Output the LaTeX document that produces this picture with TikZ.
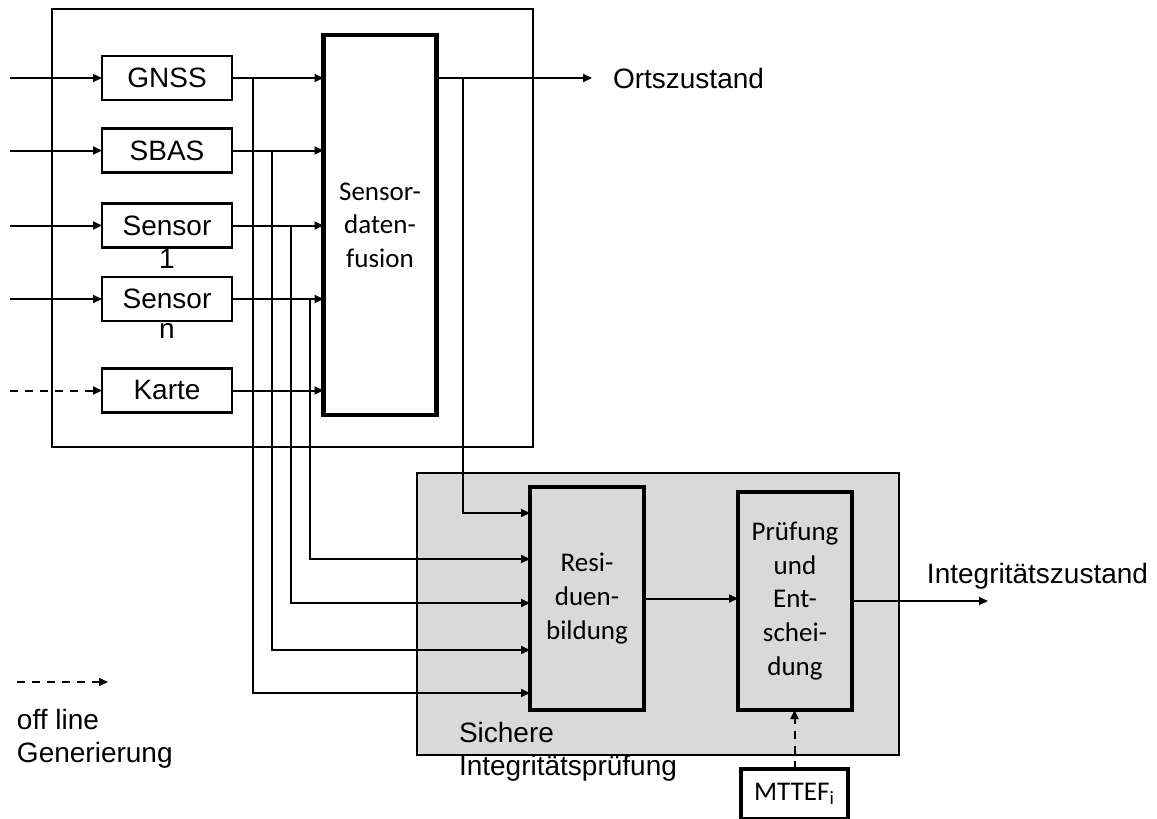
\documentclass[tikz,border=0pt]{standalone}
\usepackage{fontspec}
\setmainfont{Liberation Sans}
\newfontfamily\calibri{Carlito}
\usetikzlibrary{arrows.meta, positioning}

\begin{document}
\begin{tikzpicture}[
    x=0.5pt, y=-0.5pt,
    font=\fontsize{14}{16.5}\selectfont,
    frame/.style={rectangle, draw, line width=1pt, inner sep=0pt, outer sep=0pt},
    inbox/.style={rectangle, draw, line width=1.2pt, minimum width=65pt, minimum height=22pt, inner sep=0pt, outer sep=0pt},
    proc/.style={rectangle, draw, line width=2.2pt, align=center, inner sep=0pt, outer sep=0pt, font=\calibri\fontsize{13.5}{16.8}\selectfont},
    txt/.style={inner sep=0pt, outer sep=0pt, align=left},
    arrow/.style={-{Stealth[length=4.5pt, width=4pt, inset=0pt]}, line width=1pt},
    offline/.style={arrow, dash pattern=on 4pt off 3.5pt}
]
    \useasboundingbox (0,0) rectangle (1157,819);

    % frames
    \node[frame, fill=gray!30, minimum width=241pt, minimum height=141pt] (integ) at (658,614) {};
    \node[frame, minimum width=240.5pt, minimum height=219pt] (sensorik) at (292.5,228) {};

    % inputs
    \node[inbox] (gnss) at (167,78) {GNSS};
    \node[inbox] (sbas) at (167,150.5) {SBAS};
    \node[inbox, label={[txt, label distance=1pt]below:1}] (sens1) at (167,225.5) {Sensor};
    \node[inbox, label={[txt, label distance=1pt]below:n}] (sensn) at (167,299) {Sensor};
    \node[inbox] (karte) at (167,390.5) {Karte};

    % processing blocks
    \node[proc, minimum width=56.5pt, minimum height=190pt] (fusion) at (380,225) {Sensor-\\daten-\\fusion};
    \node[proc, minimum width=57pt, minimum height=111.5pt] (residuen) at (587,598.5) {Resi-\\duen-\\bildung};
    \node[proc, minimum width=57pt, minimum height=109pt] (pruefung) at (795,601) {Prüfung\\und\\Ent-\\schei-\\dung};
    \node[proc, line width=1.8pt, fill=white, minimum width=53.5pt, minimum height=25pt] (mttef) at (794.5,794) {MTTEF\textsubscript{i}};

    % labels
    \node[txt, anchor=west] (ortsz) at (613,78) {Ortszustand};
    \node[txt] (intz) at (1037.5,576) {Integritätszustand};
    \node[txt, anchor=north west] (sicher) at (459,722) {Sichere\\Integritätsprüfung};
    \node[txt, anchor=north west] (legtxt) at (17,709) {off line\\Generierung};

    \coordinate (ortab) at (fusion.east |- gnss);
    \coordinate (intend) at (988,601);
    \coordinate (leg1) at (17,682);
    \coordinate (leg2) at (108,682);

    % connectors
    \foreach \n in {gnss, sbas, sens1, sensn}
        \draw[arrow] ([xshift=-46pt]\n.west) -- (\n.west);
    \draw[offline] ([xshift=-46pt]karte.west) -- (karte.west);
    \foreach \n in {gnss, sbas, sens1, sensn, karte}
        \draw[arrow] (\n.east) -- (\n.east -| fusion.west);
    \foreach \n/\dx/\dy in {gnss/10.5/-47.25, sbas/20/-25.75, sens1/29.5/-2.25, sensn/39/19.75}
        \draw[arrow] ([xshift=\dx pt]\n.east) |- ([yshift=\dy pt]residuen.west);

    \draw[arrow] (ortab) -- ([xshift=-10.5pt]ortsz.west);
    \draw[arrow] ([xshift=13.25pt]ortab) |- ([yshift=42.75pt]residuen.west);
    \draw[arrow] (residuen.east) -- (residuen.east -| pruefung.west);
    \draw[arrow] (pruefung.east) -- (intend);
    \draw[offline] (mttef.north) -- (mttef.north |- pruefung.south);
    \draw[offline] (leg1) -- (leg2);
\end{tikzpicture}
\end{document}
